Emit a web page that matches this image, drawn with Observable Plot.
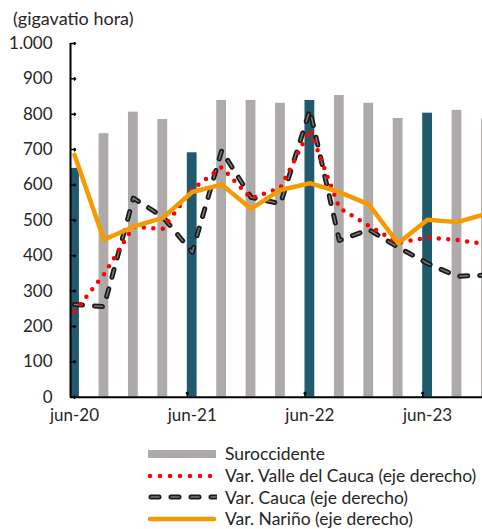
<!DOCTYPE html>
<html><head><meta charset="utf-8">
<script src="https://cdn.jsdelivr.net/npm/d3@7"></script>
<script src="https://cdn.jsdelivr.net/npm/@observablehq/plot@0.6"></script>
<style>
body{margin:0;background:#fff;width:482px;height:529px;overflow:hidden;position:relative;font-family:Lato,sans-serif;color:#262626}
#chart{position:absolute;left:0;top:0}
#unit{position:absolute;left:13px;top:7px;font-size:18px;white-space:nowrap}
#legend{position:absolute;left:148px;top:443px}
.row{display:flex;align-items:center;height:21.7px;font-size:17.5px;white-space:nowrap}
.row svg{margin-right:8px;flex:none}
</style></head><body>
<div id="chart"></div>
<div id="unit">(gigavatio hora)</div>
<div id="legend"></div>
<script>
// Quarterly periods
const periods = ["jun-20","sep-20","dic-20","mar-21","jun-21","sep-21","dic-21","mar-22","jun-22","sep-22","dic-22","mar-23","jun-23","sep-23","dic-23"];
// Suroccidente (gigavatio hora)
const suroccidente = [647,745,806,785,691,839,839,831,839,853,831,788,803,811,787];
// Variations (plotted against the right axis, read here in left-axis units)
const valle  = [242,347,482,476,588,650,562,592,756,535,485,437,451,445,432];
const cauca  = [262,256,563,510,410,697,565,547,812,443,474,424,378,342,345];
const narino = [685,445,482,507,580,601,533,586,605,580,545,435,502,495,518];
const yTicks = [0,100,200,300,400,500,600,700,800,900,1000];
const xTickLabels = ["jun-20","jun-21","jun-22","jun-23"];
const seriesNames = ["Suroccidente","Var. Valle del Cauca (eje derecho)","Var. Cauca (eje derecho)","Var. Nariño (eje derecho)"];

const DARK = "#215A6D", GRAY = "#AEAAAA", RED = "#FF0000", BLACK = "#1A1A1A", INNER = "#7A7A7A", ORANGE = "#F59A00";

const rows = periods.map((p, i) => ({p, m: i * 3, sur: suroccidente[i], valle: valle[i], cauca: cauca[i], narino: narino[i], jun: xTickLabels.includes(p)}));
const es = d3.formatLocale({decimal: ",", thousands: ".", grouping: [3], currency: ["$", ""]}).format(",");
const xDom = [-0.41, 41.6];

const chart = Plot.plot({
  width: 482, height: 440,
  marginLeft: 70, marginRight: 0, marginTop: 43, marginBottom: 43.3,
  style: {fontFamily: "Lato, sans-serif", fontSize: "17px", color: "#262626", background: "#fff"},
  x: {type: "linear", domain: xDom, axis: null},
  y: {domain: [0, 1000], axis: null},
  marks: [
    Plot.rectY(rows, {x1: d => d.m - 0.5, x2: d => d.m + 0.5, y: "sur", fill: d => d.jun ? DARK : GRAY, clip: true}),
    Plot.line(rows, {x: "m", y: "cauca", stroke: BLACK, strokeWidth: 5, strokeDasharray: "8,12", strokeLinecap: "round", strokeLinejoin: "round", clip: true}),
    Plot.line(rows, {x: "m", y: "cauca", stroke: INNER, strokeWidth: 1.5, strokeDasharray: "8,12", strokeLinecap: "round", strokeLinejoin: "round", clip: true}),
    Plot.line(rows, {x: "m", y: "valle", stroke: RED, strokeWidth: 4.5, strokeDasharray: "0,9.5", strokeLinecap: "round", clip: true}),
    Plot.line(rows, {x: "m", y: "narino", stroke: ORANGE, strokeWidth: 4.5, strokeLinejoin: "round", clip: true}),
    Plot.ruleX([xDom[0]], {stroke: "#000", strokeWidth: 2}),
    Plot.ruleY([0], {stroke: "#000", strokeWidth: 2}),
    Plot.vector(yTicks, {y: d => d, frameAnchor: "left", length: 5, rotate: 90, anchor: "start", stroke: "#000", strokeWidth: 1.5}),
    Plot.vector(rows.filter(d => d.jun && d.m > 0), {x: d => d.m - 0.5, y: () => 0, length: 5, rotate: 0, anchor: "start", stroke: "#000", strokeWidth: 1.5}),
    Plot.text(yTicks, {y: d => d, text: d => es(d), frameAnchor: "left", textAnchor: "end", dx: -18, fill: "#262626", fontSize: 17}),
    Plot.text(rows.filter(d => d.jun), {x: "m", text: "p", frameAnchor: "bottom", dy: 24, fill: "#262626", fontSize: 17})
  ]
});
document.getElementById("chart").append(chart);

// Legend
const legend = document.getElementById("legend");
const swatches = [
  `<rect x="0" y="4" width="68" height="8" fill="${GRAY}"/>`,
  `<line x1="2" y1="8" x2="68" y2="8" stroke="${RED}" stroke-width="4.5" stroke-dasharray="0,10" stroke-linecap="round"/>`,
  `<line x1="3" y1="8" x2="68" y2="8" stroke="${BLACK}" stroke-width="5" stroke-dasharray="8,12" stroke-linecap="round"/><line x1="3" y1="8" x2="68" y2="8" stroke="${INNER}" stroke-width="1.5" stroke-dasharray="8,12" stroke-linecap="round"/>`,
  `<line x1="2" y1="8" x2="66" y2="8" stroke="${ORANGE}" stroke-width="4.5" stroke-linecap="round"/>`
];
seriesNames.forEach((name, i) => {
  const r = document.createElement("div");
  r.className = "row";
  r.innerHTML = `<svg width="69" height="16">${swatches[i]}</svg><span>${name}</span>`;
  legend.append(r);
});
</script>
</body></html>
